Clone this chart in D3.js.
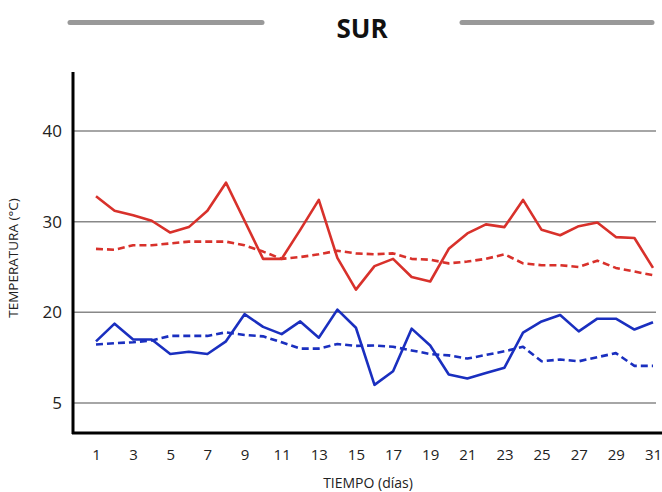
<!DOCTYPE html>
<html>
<head>
<meta charset="utf-8">
<script src="https://cdn.jsdelivr.net/npm/d3@7"></script>
<style>
  body { margin: 0; background: #fff; }
  text { font-family: "Open Sans", sans-serif; }
</style>
</head>
<body>
<svg width="662" height="492"></svg>
<script>
// datos (posiciones en escala lineal; la línea "5" está en 10)
var days = d3.range(1, 32);
var maxDiaria = [32.8, 31.2, 30.7, 30.1, 28.8, 29.4, 31.2, 34.3, 30.1, 25.9, 25.9, 29.1, 32.4, 26.0, 22.5,
                 25.1, 25.9, 23.9, 23.4, 27.0, 28.7, 29.7, 29.4, 32.4, 29.1, 28.5, 29.5, 29.9, 28.3, 28.2, 24.9];
var maxMedia = [27.0, 26.9, 27.4, 27.4, 27.6, 27.8, 27.8, 27.8, 27.4, 26.7, 25.9, 26.1, 26.4, 26.8, 26.5,
                26.4, 26.5, 25.9, 25.8, 25.4, 25.6, 25.9, 26.4, 25.4, 25.2, 25.2, 25.0, 25.7, 24.9, 24.5, 24.1];
var minDiaria = [16.8, 18.75, 17.0, 17.0, 15.4, 15.65, 15.4, 16.8, 19.8, 18.4, 17.6, 19.0, 17.2, 20.3, 18.3,
                 12.0, 13.5, 18.2, 16.35, 13.15, 12.7, 13.3, 13.9, 17.75, 19.0, 19.7, 17.9, 19.3, 19.3, 18.1, 18.9];
var minMedia = [16.45, 16.6, 16.7, 16.9, 17.4, 17.4, 17.4, 17.8, 17.5, 17.35, 16.7, 16.0, 16.0, 16.5, 16.3,
                16.35, 16.2, 15.8, 15.4, 15.25, 14.9, 15.3, 15.7, 16.2, 14.6, 14.8, 14.6, 15.05, 15.5, 14.1, 14.1];
var yTicks = [10, 20, 30, 40];
var yTickLabels = ["5", "20", "30", "40"];
var xTicks = d3.range(1, 32, 2);

var svg = d3.select("svg");

var x = d3.scaleLinear().domain([1, 31]).range([96, 653]);
var y = d3.scaleLinear().domain([10, 40]).range([403, 131]);

// titulo
svg.append("line").attr("x1", 70).attr("x2", 262).attr("y1", 22.5).attr("y2", 22.5)
    .attr("stroke", "#999").attr("stroke-width", 5).attr("stroke-linecap", "round");
svg.append("line").attr("x1", 462).attr("x2", 652).attr("y1", 22.5).attr("y2", 22.5)
    .attr("stroke", "#999").attr("stroke-width", 5).attr("stroke-linecap", "round");
svg.append("text").attr("x", 362).attr("y", 38).attr("text-anchor", "middle")
    .attr("font-size", 26).attr("font-weight", "bold").attr("fill", "#111").text("SUR");

// grid
svg.append("g").selectAll("line").data(yTicks).enter().append("line")
    .attr("x1", 73).attr("x2", 656)
    .attr("y1", function(d) { return y(d); }).attr("y2", function(d) { return y(d); })
    .attr("stroke", "#888").attr("stroke-width", 1.5);

// ejes
var yAxis = d3.axisLeft(y).tickValues(yTicks)
    .tickFormat(function(d, i) { return yTickLabels[i]; }).tickSize(0).tickPadding(11);
var gy = svg.append("g").attr("transform", "translate(73,0)").call(yAxis);
gy.select(".domain").remove();
gy.selectAll("text").attr("font-size", 17).attr("fill", "#222").attr("font-family", "Open Sans, sans-serif");

var xAxis = d3.axisBottom(x).tickValues(xTicks).tickSize(0).tickPadding(16);
var gx = svg.append("g").attr("transform", "translate(0,433)").call(xAxis);
gx.select(".domain").remove();
gx.selectAll("text").attr("font-size", 15).attr("fill", "#222").attr("font-family", "Open Sans, sans-serif");

svg.append("line").attr("x1", 73).attr("x2", 73).attr("y1", 72).attr("y2", 434)
    .attr("stroke", "#000").attr("stroke-width", 3);
svg.append("line").attr("x1", 72).attr("x2", 662).attr("y1", 433).attr("y2", 433)
    .attr("stroke", "#000").attr("stroke-width", 3);

// titulos de ejes
svg.append("text").attr("x", 368).attr("y", 488).attr("text-anchor", "middle")
    .attr("font-size", 14).attr("fill", "#222").text("TIEMPO (días)");
svg.append("text").attr("transform", "translate(18,258) rotate(-90)").attr("text-anchor", "middle")
    .attr("font-size", 13.5).attr("fill", "#222").text("TEMPERATURA (°C)");

// series
var line = d3.line()
    .x(function(d, i) { return x(days[i]); })
    .y(function(d) { return y(d); });

var series = [
  { values: maxMedia, color: "#d8312b", dash: "7,4" },
  { values: minMedia, color: "#1a2fbf", dash: "7,4" },
  { values: maxDiaria, color: "#d8312b", dash: null },
  { values: minDiaria, color: "#1a2fbf", dash: null }
];

svg.append("g").selectAll("path").data(series).enter().append("path")
    .attr("d", function(d) { return line(d.values); })
    .attr("fill", "none")
    .attr("stroke", function(d) { return d.color; })
    .attr("stroke-width", 2.6)
    .attr("stroke-dasharray", function(d) { return d.dash; })
    .attr("stroke-linejoin", "round");
</script>
</body>
</html>
